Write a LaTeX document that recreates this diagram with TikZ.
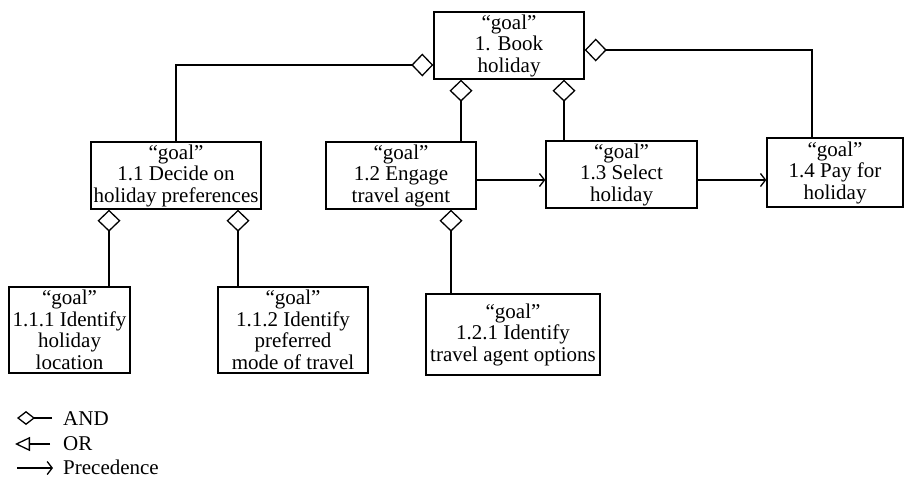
\documentclass[tikz,border=0pt]{standalone}
\usepackage{fontspec}
\setmainfont{Liberation Serif}
\usetikzlibrary{arrows.meta}
\begin{document}
\begin{tikzpicture}[x=1pt,y=-1pt,
  goalbox/.style={draw, line width=1.4pt, rectangle, inner sep=0pt, align=center,
    font=\fontsize{21}{21.5}\selectfont},
  andline/.style={line width=1.4pt, -{Diamond[open,length=22pt,width=23pt,line width=1.3pt]}},
  orline/.style={line width=1.4pt, -{Triangle[open,length=15pt,width=14pt,line width=1.3pt]}},
  precline/.style={line width=1.4pt, -{Straight Barb[length=5pt,width=13pt,line width=1.3pt]}},
  legtext/.style={anchor=base west, inner sep=0pt, font=\fontsize{21}{21.5}\selectfont}]
\useasboundingbox (0,0) rectangle (904,477);

% goal boxes
\node[goalbox, minimum width=150pt, minimum height=67pt] (book) at (509,45.5)
  {“goal”\\1. Book\\holiday};
\node[goalbox, minimum width=170pt, minimum height=67pt] (c11) at (176,175.5)
  {“goal”\\1.1 Decide on\\holiday preferences};
\node[goalbox, minimum width=150pt, minimum height=67pt] (c12) at (401,175.5)
  {“goal”\\1.2 Engage\\travel agent};
\node[goalbox, minimum width=151pt, minimum height=67pt] (c13) at (621.5,174.5)
  {“goal”\\1.3 Select\\holiday};
\node[goalbox, minimum width=136pt, minimum height=69pt] (c14) at (835,172.5)
  {“goal”\\1.4 Pay for\\holiday};
\node[goalbox, minimum width=121pt, minimum height=86pt] (c111) at (69.5,330)
  {“goal”\\1.1.1 Identify\\holiday\\location};
\node[goalbox, minimum width=150pt, minimum height=86pt] (c112) at (293,330)
  {“goal”\\1.1.2 Identify\\preferred\\mode of travel};
\node[goalbox, minimum width=174pt, minimum height=81pt] (c121) at (513,334.5)
  {“goal”\\1.2.1 Identify\\travel agent options};

% attachment points of the AND links
\coordinate (bookL) at ([yshift=-19.5pt]book.west);
\coordinate (bookR) at ([yshift=-4.5pt]book.east);
\coordinate (bookB1) at ([xshift=-48pt]book.south);
\coordinate (bookB2) at ([xshift=55pt]book.south);
\coordinate (c11B1) at ([xshift=-67pt]c11.south);
\coordinate (c11B2) at ([xshift=62pt]c11.south);
\coordinate (c12B) at ([xshift=50pt]c12.south);
\coordinate (c14T) at ([xshift=-23pt]c14.north);

% AND decomposition
\draw[andline] (c11.north) |- (bookL);
\draw[andline] (c14T) |- (bookR);
\draw[andline] (c12.north -| bookB1) -- (bookB1);
\draw[andline] (c13.north -| bookB2) -- (bookB2);
\draw[andline] (c111.north -| c11B1) -- (c11B1);
\draw[andline] (c112.north -| c11B2) -- (c11B2);
\draw[andline] (c121.north -| c12B) -- (c12B);

% precedence
\coordinate (precY) at (0,180);
\draw[precline] (c12.east |- precY) -- (c13.west |- precY);
\draw[precline] (c13.east |- precY) -- (c14.west |- precY);

% legend
\coordinate (andS) at (52,418);   \coordinate (andE) at (17,418);
\coordinate (orS) at (50,444);    \coordinate (orE) at (15,444);
\coordinate (prS) at (17,468);    \coordinate (prE) at (53,468);
\draw[line width=1.4pt, -{Diamond[open,length=18pt,width=14pt,line width=1.3pt]}] (andS) -- (andE);
\draw[orline] (orS) -- (orE);
\draw[precline] (prS) -- (prE);
\node[legtext] (legand) at (63,425) {AND};
\node[legtext] (legor) at (63,450) {OR};
\node[legtext] (legprec) at (63,474) {Precedence};
\end{tikzpicture}
\end{document}
